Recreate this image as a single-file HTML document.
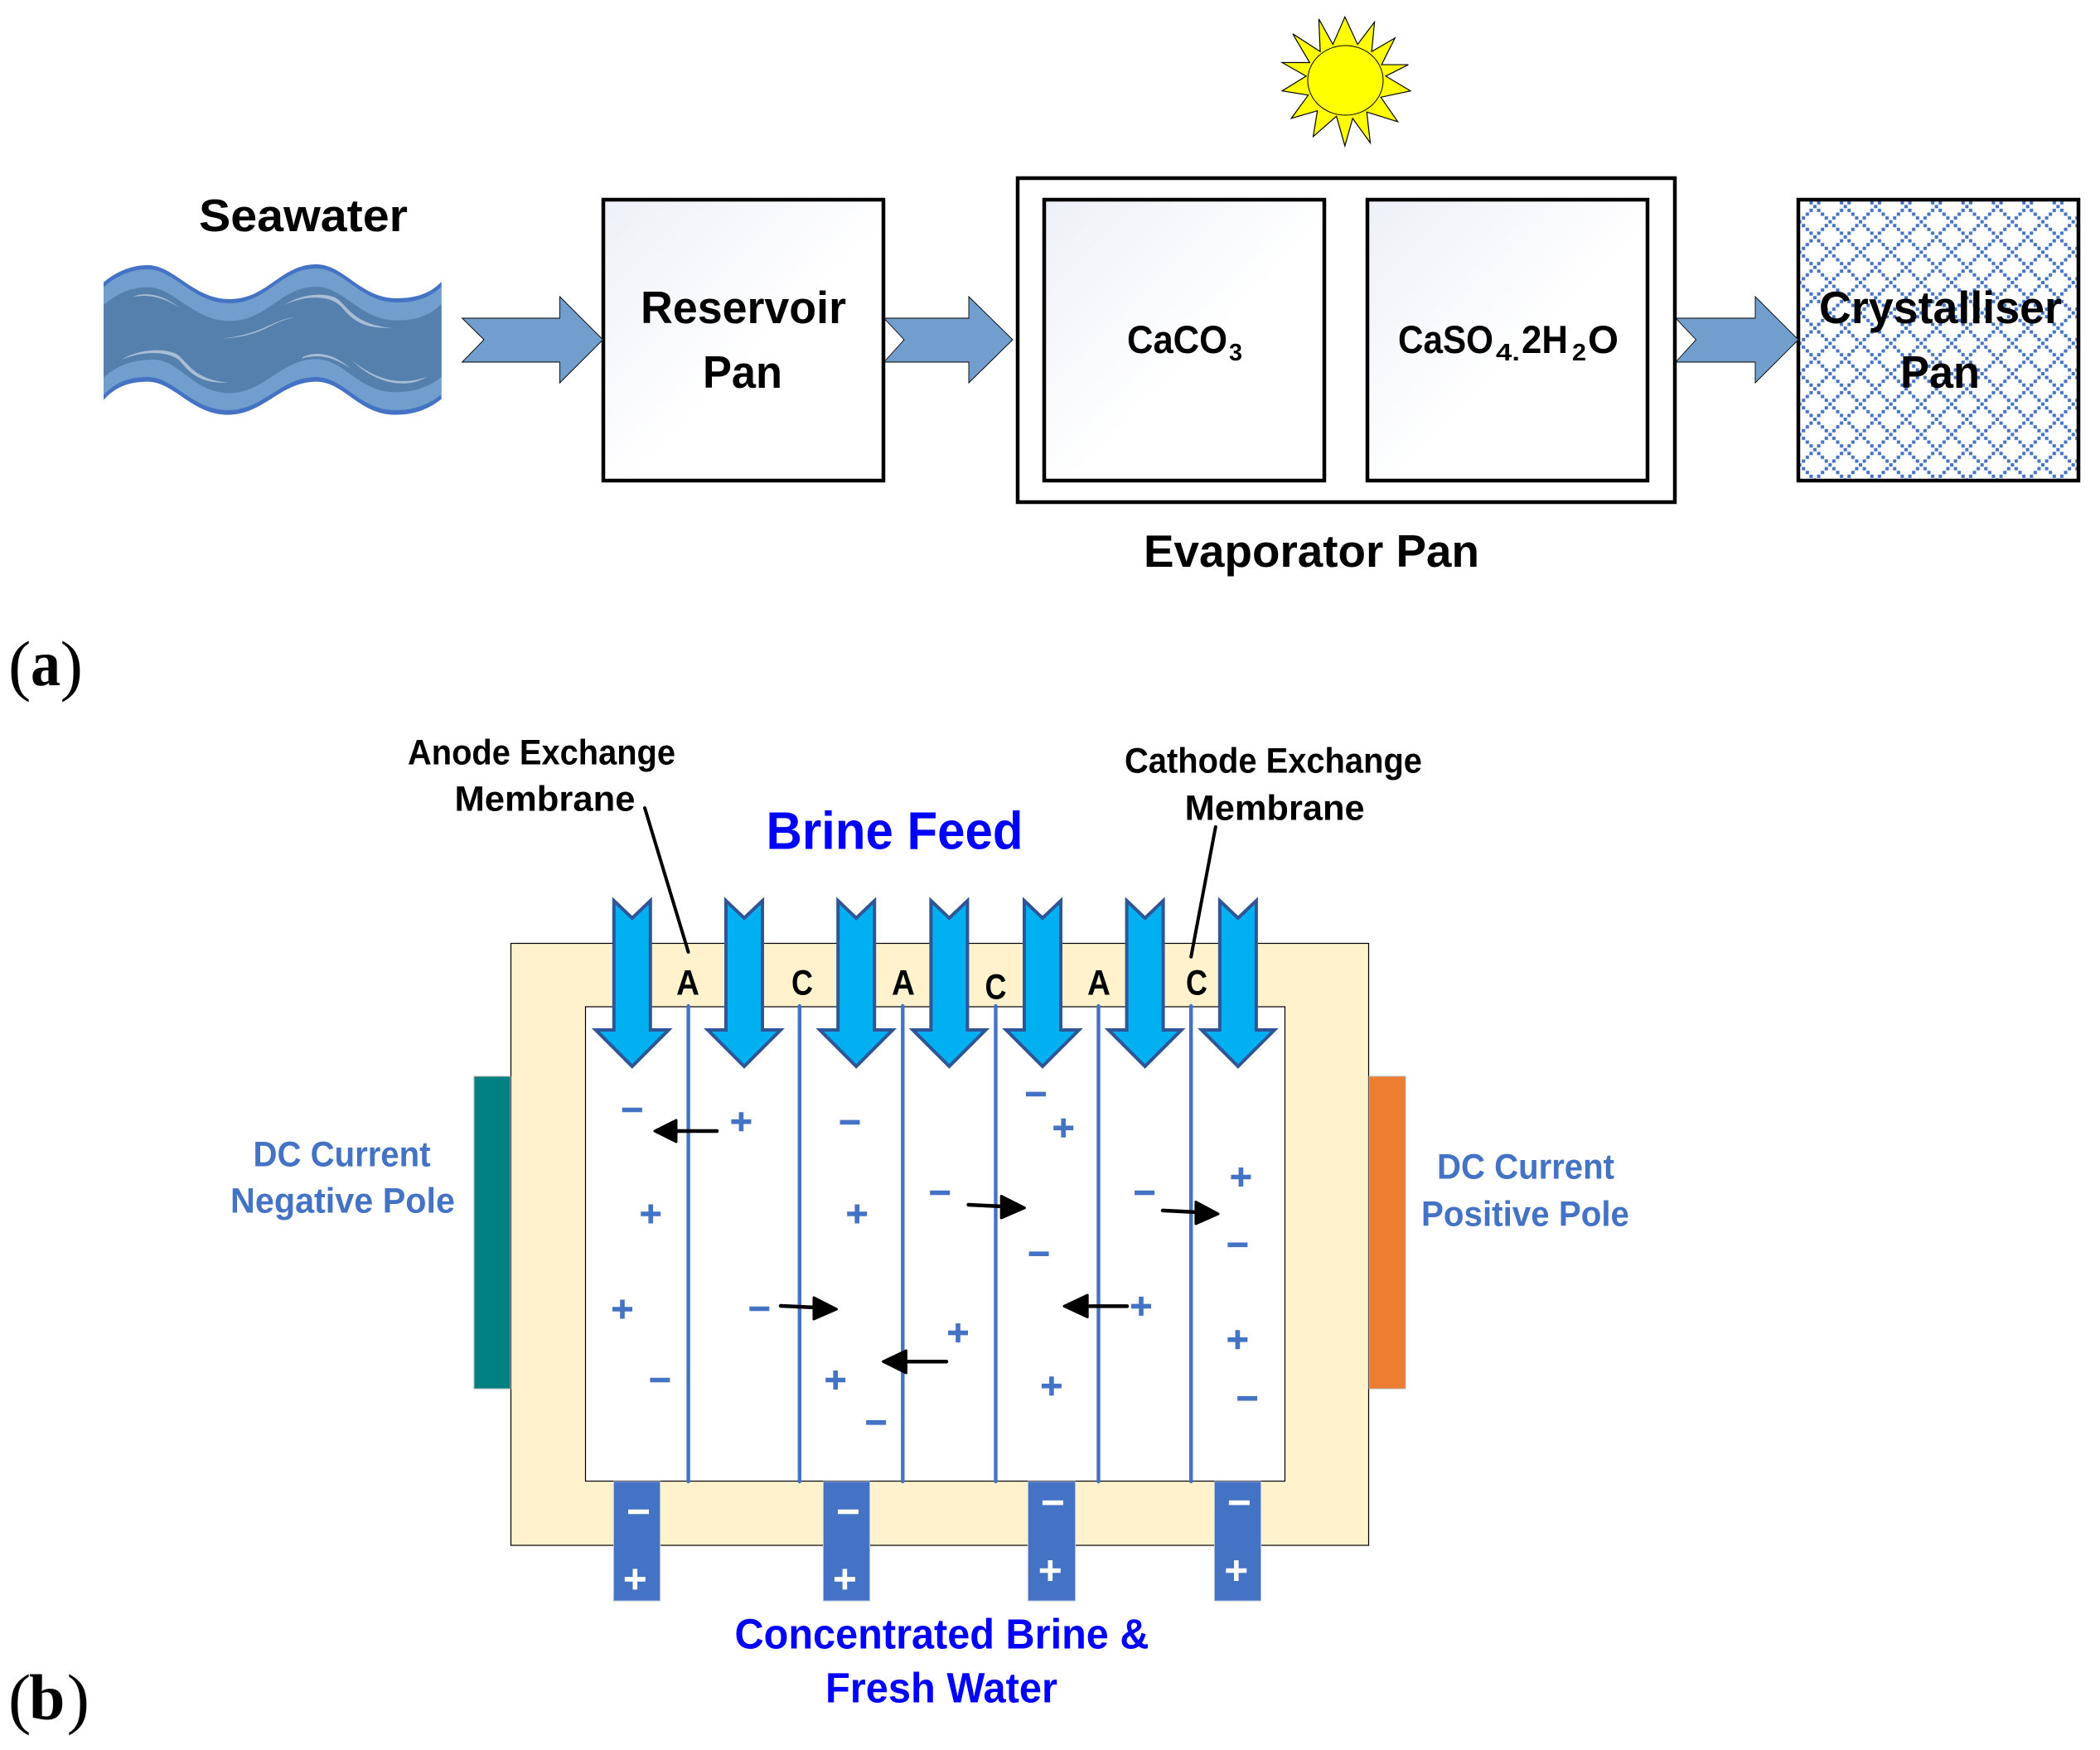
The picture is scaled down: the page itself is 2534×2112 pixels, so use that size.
<!DOCTYPE html>
<html>
<head>
<meta charset="utf-8">
<style>
html,body{margin:0;padding:0;background:#fff;width:2534px;height:2112px;overflow:hidden}
svg{display:block}
text{font-family:"Liberation Sans",sans-serif;font-weight:bold}
text.s{font-family:"Liberation Serif",serif}
text.n{font-family:"Liberation Serif",serif;font-weight:normal}
</style>
</head>
<body>
<svg xmlns="http://www.w3.org/2000/svg" width="2534" height="2112" viewBox="0 0 2534 2112">
<defs>
<linearGradient id="g" x1="0" y1="0" x2="1" y2="1">
<stop offset="0" stop-color="#edf0f7"/><stop offset=".55" stop-color="#fff"/><stop offset="1" stop-color="#fff"/>
</linearGradient>
<pattern id="lat" patternUnits="userSpaceOnUse" width="36.67" height="36.67" patternTransform="translate(2171.67 231)">
<g fill="#4472c4">
<rect x="-2" y="-2" width="4" height="4"/><rect x="34.67" y="-2" width="4" height="4"/><rect x="-2" y="34.67" width="4" height="4"/><rect x="34.67" y="34.67" width="4" height="4"/>
<rect x="2.58" y="2.58" width="4" height="4"/><rect x="7.17" y="7.17" width="4" height="4"/><rect x="11.75" y="11.75" width="4" height="4"/><rect x="16.33" y="16.33" width="4" height="4"/><rect x="20.92" y="20.92" width="4" height="4"/><rect x="25.5" y="25.5" width="4" height="4"/><rect x="30.08" y="30.08" width="4" height="4"/>
<rect x="30.08" y="2.58" width="4" height="4"/><rect x="25.5" y="7.17" width="4" height="4"/><rect x="20.92" y="11.75" width="4" height="4"/><rect x="11.75" y="20.92" width="4" height="4"/><rect x="7.17" y="25.5" width="4" height="4"/><rect x="2.58" y="30.08" width="4" height="4"/>
</g>
</pattern>
</defs>

<!-- sun -->
<g transform="translate(1200 0) scale(.8508 .5102)">
<polygon fill="#ffff00" stroke="#000" stroke-width="1.2" vector-effect="non-scaling-stroke" points="497,40 515,105 539,52 535,122 568,90 549,153 587,153 555,180 590,215 548,230 572,288 528,265 533,338 508,280 497,345 485,275 452,323 458,262 421,280 445,225 408,215 442,180 408,148 447,148 423,80 462,122 460,45 480,105"/>
</g>
<ellipse cx="1623.5" cy="97" rx="45.5" ry="42" fill="#ffff00" stroke="#000" stroke-width="1"/>

<!-- wave -->
<g transform="translate(110 300) scale(.33333)">
<path fill="#4472c4" d="M45,122 C95,80 150,60 205,60 C300,60 370,183 500,183 C640,183 685,57 815,57 C915,57 975,180 1105,180 C1180,180 1230,160 1268,120 L1268,545 C1230,575 1180,602 1100,602 C970,602 915,482 815,482 C685,482 625,602 495,602 C365,602 300,482 205,482 C130,482 85,505 45,548 Z"/>
<path fill="#729ecd" d="M45,140 C95,95 150,75 205,75 C300,75 370,198 500,198 C640,198 685,72 815,72 C915,72 975,195 1105,195 C1180,195 1230,175 1268,138 L1268,528 C1230,558 1180,585 1100,585 C970,585 915,465 815,465 C685,465 625,585 495,585 C365,585 300,465 205,465 C130,465 85,488 45,530 Z"/>
<path fill="#5580ae" d="M45,205 C95,160 150,140 205,140 C300,140 370,262 500,262 C640,262 685,138 815,138 C915,138 975,260 1105,260 C1180,260 1230,240 1268,200 L1268,465 C1230,495 1180,520 1100,520 C970,520 915,400 815,400 C685,400 630,523 500,523 C370,523 320,402 225,402 C140,402 85,430 45,468 Z"/>
<g fill="#a8bdd6">
<path d="M150,175 C180,160 250,155 323,217 C260,172 200,165 150,175Z"/>
<path d="M697,205 C750,170 830,155 885,178 C930,205 945,275 1088,287 C990,290 950,265 905,210 C860,165 770,170 697,205Z"/>
<path d="M473,325 C540,320 600,300 640,280 C680,262 710,250 735,250 C700,255 670,270 630,290 C590,310 530,325 473,325Z"/>
<path d="M108,403 C160,370 250,355 310,382 C350,410 370,475 497,485 C400,490 360,455 320,405 C270,365 170,375 108,403Z"/>
<path d="M765,393 C810,372 870,375 938,433 C880,395 830,380 765,397Z"/>
<path d="M942,403 C1000,450 1060,480 1130,480 C1170,480 1200,470 1218,463 C1190,480 1160,490 1120,488 C1050,485 990,450 942,403Z"/>
</g>
</g>

<!-- boxes -->
<rect x="728" y="241" width="338" height="339" fill="url(#g)" stroke="#000" stroke-width="4.5"/>
<rect x="1228" y="215" width="793" height="391" fill="#fff" stroke="#000" stroke-width="4.5"/>
<rect x="1260" y="241" width="338" height="339" fill="url(#g)" stroke="#000" stroke-width="4.5"/>
<rect x="1650" y="241" width="338" height="339" fill="url(#g)" stroke="#000" stroke-width="4.5"/>
<rect x="2170" y="241" width="338" height="339" fill="#fff"/>
<rect x="2170" y="241" width="338" height="339" fill="url(#lat)" stroke="#000" stroke-width="4.5"/>

<!-- flow arrows -->
<g fill="#729ecd" stroke="#000" stroke-width=".9">
<polygon points="557.6,384 675.5,384 675.5,358 727.5,410 675.5,462 675.5,437 557.6,437 584,410"/>
<polygon points="1066.6,384 1169,384 1169,358 1222,410 1169,462 1169,437 1066.6,437 1091,410"/>
<polygon points="2022,384 2118,384 2118,358 2170,410 2118,462 2118,437 2022,437 2046.5,410"/>
</g>

<!-- part a text -->
<g fill="#000">
<text x="240" y="279" font-size="55" textLength="252" lengthAdjust="spacingAndGlyphs">Seawater</text>
<text x="773" y="390" font-size="55" textLength="248" lengthAdjust="spacingAndGlyphs">Reservoir</text>
<text x="848" y="468" font-size="55" textLength="96" lengthAdjust="spacingAndGlyphs">Pan</text>
<text x="2195" y="390" font-size="55" textLength="293" lengthAdjust="spacingAndGlyphs">Crystalliser</text>
<text x="2293" y="468" font-size="55" textLength="96" lengthAdjust="spacingAndGlyphs">Pan</text>
<text x="1380" y="684" font-size="55" textLength="405" lengthAdjust="spacingAndGlyphs">Evaporator Pan</text>
<text x="1360" y="426" font-size="47" textLength="121" lengthAdjust="spacingAndGlyphs">CaCO</text>
<text x="1483" y="435" font-size="29" textLength="16" lengthAdjust="spacingAndGlyphs">3</text>
<text x="1687" y="426" font-size="47" textLength="115" lengthAdjust="spacingAndGlyphs">CaSO</text>
<text x="1805" y="435" font-size="29" textLength="29" lengthAdjust="spacingAndGlyphs">4.</text>
<text x="1836" y="426" font-size="47" textLength="56" lengthAdjust="spacingAndGlyphs">2H</text>
<text x="1897" y="435" font-size="29" textLength="17" lengthAdjust="spacingAndGlyphs">2</text>
<text x="1916" y="426" font-size="47" textLength="37" lengthAdjust="spacingAndGlyphs">O</text>
<text class="n" x="10" y="830" font-size="82">(</text>
<text class="s" x="37" y="827" font-size="78" textLength="36" lengthAdjust="spacingAndGlyphs">a</text>
<text class="n" x="72.6" y="830" font-size="82">)</text>
<text class="n" x="10" y="2077" font-size="82">(</text>
<text class="s" x="35" y="2075" font-size="78">b</text>
<text class="n" x="80.6" y="2077" font-size="82">)</text>
</g>

<!-- electrodialysis cell -->
<rect x="616.5" y="1138.5" width="1035" height="726.5" fill="#fff2cc" stroke="#000" stroke-width="1.2"/>
<rect x="706.5" y="1215" width="844" height="572.5" fill="#fff" stroke="#000" stroke-width="1.2"/>
<rect x="572" y="1299" width="44" height="377" fill="#008080" stroke="#b5b5b5" stroke-width="1"/>
<rect x="1652" y="1299" width="44" height="377" fill="#ed7d31" stroke="#b5b5b5" stroke-width="1"/>

<!-- membranes -->
<path d="M830.6 1214V1788M964.8 1214V1788M1089.3 1214V1788M1201.5 1214V1788M1325.5 1214V1788M1437.2 1214V1788" stroke="#4472c4" stroke-width="4.4" fill="none" stroke-linecap="round"/>

<!-- feed arrows -->
<g fill="#00b0f0" stroke="#2f5597" stroke-width="4">
<polygon points="740.8,1087 762.8,1108 784.8,1087 784.8,1243 806.8,1243 762.8,1287 718.8,1243 740.8,1243"/>
<polygon points="876,1087 898,1108 920,1087 920,1243 942,1243 898,1287 854,1243 876,1243"/>
<polygon points="1011.2,1087 1033.2,1108 1055.2,1087 1055.2,1243 1077.2,1243 1033.2,1287 989.2,1243 1011.2,1243"/>
<polygon points="1123.4,1087 1145.4,1108 1167.4,1087 1167.4,1243 1189.4,1243 1145.4,1287 1101.4,1243 1123.4,1243"/>
<polygon points="1236,1087 1258,1108 1280,1087 1280,1243 1302,1243 1258,1287 1214,1243 1236,1243"/>
<polygon points="1359.6,1087 1381.6,1108 1403.6,1087 1403.6,1243 1425.6,1243 1381.6,1287 1337.6,1243 1359.6,1243"/>
<polygon points="1471.9,1087 1493.9,1108 1515.9,1087 1515.9,1243 1537.9,1243 1493.9,1287 1449.9,1243 1471.9,1243"/>
</g>

<!-- callouts -->
<path d="M778 975L830.6 1149M1466.8 998L1437.2 1154.7" stroke="#000" stroke-width="4" stroke-linecap="round" fill="none"/>

<!-- membrane letters -->
<g fill="#000" font-size="43">
<text x="816" y="1200.6" textLength="28" lengthAdjust="spacingAndGlyphs">A</text>
<text x="955" y="1200.6" textLength="26" lengthAdjust="spacingAndGlyphs">C</text>
<text x="1076" y="1200.6" textLength="28" lengthAdjust="spacingAndGlyphs">A</text>
<text x="1188.5" y="1205.6" textLength="26" lengthAdjust="spacingAndGlyphs">C</text>
<text x="1312" y="1200.6" textLength="28" lengthAdjust="spacingAndGlyphs">A</text>
<text x="1431" y="1200.6" textLength="26" lengthAdjust="spacingAndGlyphs">C</text>
<text x="492" y="922.4" textLength="323" lengthAdjust="spacingAndGlyphs">Anode Exchange</text>
<text x="548.5" y="978.6" textLength="218" lengthAdjust="spacingAndGlyphs">Membrane</text>
<text x="1357" y="932.7" textLength="359" lengthAdjust="spacingAndGlyphs">Cathode Exchange</text>
<text x="1429.6" y="989.4" textLength="217" lengthAdjust="spacingAndGlyphs">Membrane</text>
</g>
<g fill="#0000ff">
<text x="924.5" y="1024.6" font-size="64" textLength="310" lengthAdjust="spacingAndGlyphs">Brine Feed</text>
<text x="886.5" y="1989.5" font-size="51" textLength="500" lengthAdjust="spacingAndGlyphs">Concentrated Brine &amp;</text>
<text x="996" y="2054.5" font-size="51" textLength="280" lengthAdjust="spacingAndGlyphs">Fresh Water</text>
</g>
<g fill="#4472c4" font-size="43">
<text x="305.5" y="1407.7" textLength="214" lengthAdjust="spacingAndGlyphs">DC Current</text>
<text x="278" y="1463.3" textLength="271" lengthAdjust="spacingAndGlyphs">Negative Pole</text>
<text x="1734" y="1422.7" textLength="214" lengthAdjust="spacingAndGlyphs">DC Current</text>
<text x="1715" y="1479.3" textLength="251" lengthAdjust="spacingAndGlyphs">Positive Pole</text>
</g>

<!-- ions -->
<path fill="none" stroke="#4472c4" stroke-width="5.6" d="M882.4 1353.7h24M894.4 1342.2v23M1271.2 1361.3h24M1283.2 1349.8v23M773.2 1465h24M785.2 1453.5v23M1022.2 1465h24M1034.2 1453.5v23M739 1580h24M751 1568.5v23M996.2 1665.5h24M1008.2 1654v23M1144 1608.6h24M1156 1597.1v23M1256.9 1672.7h24M1268.9 1661.2v23M1485.4 1420.5h24M1497.4 1409v23M1365 1576.4h24M1377 1564.9v23M1481.4 1616.8h24M1493.4 1605.3v23"/>
<path fill="none" stroke="#4472c4" stroke-width="5.6" d="M750.8 1339.5h24M1013.5 1354.4h24M1238 1320.4h24M1122.2 1439.5h24M1241.6 1513.2h24M904.3 1579.5h24M784.4 1665.5h24M1045.1 1716.8h24M1369.1 1439.5h24M1481.4 1502.3h24M1493.1 1687.7h24"/>

<!-- ion arrows -->
<g fill="#000" stroke="#000" stroke-width="3" stroke-linejoin="round" stroke-linecap="round">
<path d="M865 1365H815" stroke-width="4.5" fill="none"/><polygon points="790,1365 816,1352 816,1378"/>
<path d="M942 1576L985 1578" stroke-width="4.5" fill="none"/><polygon points="1009.5,1580 982,1566 982,1592"/>
<path d="M1142 1643.2H1095" stroke-width="4.5" fill="none"/><polygon points="1065.5,1643.2 1093.4,1630 1093.4,1657"/>
<path d="M1168.5 1454L1210 1456" stroke-width="4.5" fill="none"/><polygon points="1236.5,1457.7 1208.2,1443.5 1208.2,1470"/>
<path d="M1403 1460.9L1445 1463" stroke-width="4.5" fill="none"/><polygon points="1470,1465 1442.9,1450.5 1442.9,1477"/>
<path d="M1360 1576.4H1315" stroke-width="4.5" fill="none"/><polygon points="1284,1576.4 1312.2,1563 1312.2,1589.5"/>
</g>

<!-- spacers -->
<g fill="#4472c4" stroke="#b4bfd4" stroke-width="1">
<rect x="740.5" y="1788" width="56" height="144"/>
<rect x="993.5" y="1788" width="56" height="144"/>
<rect x="1240.5" y="1788" width="57" height="144"/>
<rect x="1465.5" y="1788" width="56" height="144"/>
</g>
<path fill="none" stroke="#fff" stroke-width="5.6" d="M758 1824.5h25M753.8 1905.9h25M766.3 1893.4v25M1011 1824.5h25M1006.9 1905.9h25M1019.4 1893.4v25M1257.9 1813.6h25M1254.8 1895.5h25M1267.3 1883v25M1482.9 1813.6h25M1479.3 1895.5h25M1491.8 1883v25"/>
</svg>
</body>
</html>
